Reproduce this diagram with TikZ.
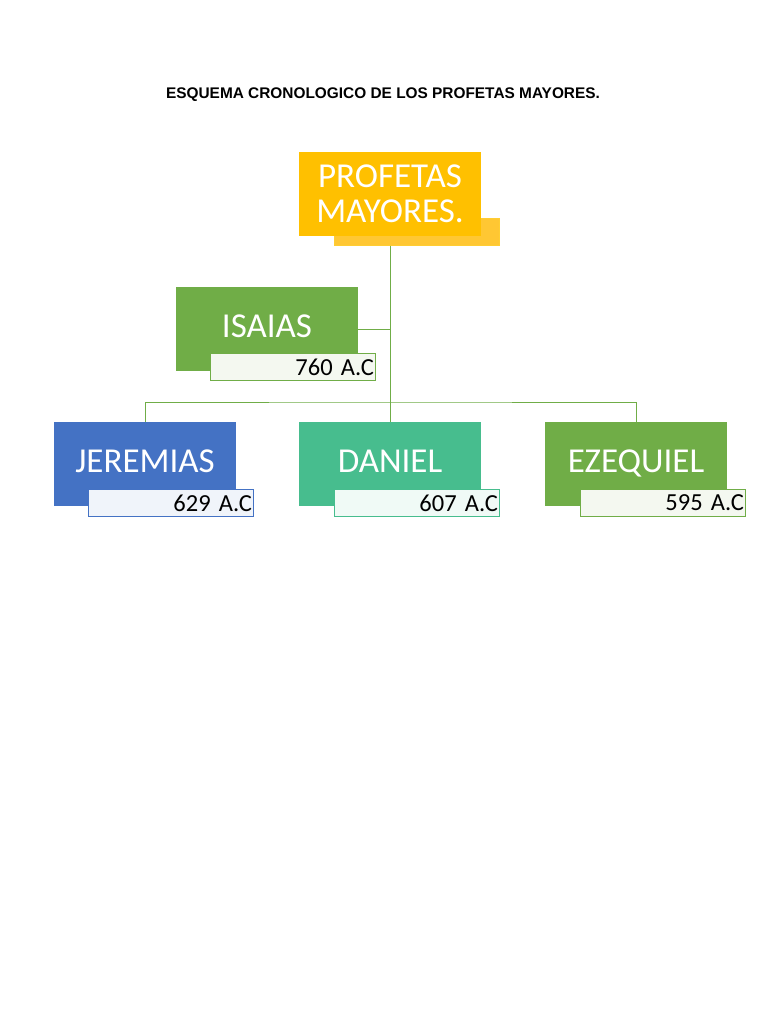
\documentclass[tikz,border=0pt]{standalone}
\usepackage{fontspec}
\setmainfont{Carlito}
\newfontfamily\titlefont{Liberation Sans}
\definecolor{oroyellow}{HTML}{FFC000}
\definecolor{hojagreen}{HTML}{70AD47}
\definecolor{marblue}{HTML}{4472C4}
\definecolor{jadeteal}{HTML}{47BD8E}
\tikzset{
  bigbox/.style={minimum width=182pt,minimum height=84pt,inner sep=0,outer sep=0,
    text=white,font=\fontsize{35}{40}\selectfont},
  datebox/.style={minimum width=165pt,minimum height=27pt,inner sep=0,outer sep=0,
    draw=#1,fill=#1!8,line width=0.8pt,text=black,align=right,
    text width=162pt,font=\fontsize{24.5}{28}\selectfont},
  conn/.style={draw=hojagreen,line width=1pt}
}

\begin{document}
\begin{tikzpicture}[x=1pt,y=-1pt]
 \useasboundingbox[fill=white] (0,0) rectangle (768,1024);
 \node (title) at (383,95) {\titlefont\bfseries\fontsize{15.4}{17}\selectfont ESQUEMA CRONOLOGICO DE LOS PROFETAS MAYORES.};

 % top
 \node[datebox=oroyellow,fill=oroyellow!90!orange!80!white,draw=oroyellow!80] (profsub) at (417,232) {};
 \node[bigbox,fill=oroyellow,align=center,font=\fontsize{35}{35}\selectfont] (prof) at (390,194) {PROFETAS\\MAYORES.};

 % isaias
 \node[bigbox,fill=hojagreen] (isaias) at (267,329) {\raisebox{6pt}{ISAIAS}};
 \node[datebox=hojagreen] (isaiasd) at (293,367) {760 A.C};

 % bottom row
 \node[bigbox,fill=marblue] (jer) at (145,464) {\raisebox{6pt}{JEREMIAS}};
 \node[datebox=marblue] (jerd) at (171,503) {629 A.C};
 \node[bigbox,fill=jadeteal] (dan) at (390,464) {\raisebox{6pt}{DANIEL}};
 \node[datebox=jadeteal] (dand) at (417,503) {607 A.C};
 \node[bigbox,fill=hojagreen] (eze) at (636,464) {\raisebox{6pt}{EZEQUIEL}};
 \node[datebox=hojagreen] (ezed) at (663,503) {595 A.C};

 % connectors
 \coordinate (ji) at (390,329);
 \coordinate (jh) at (390,402);
 \draw[conn] (profsub.south -| prof.south) -- (jh);
 \draw[conn] (isaias.east) -- (ji);
 \draw[conn] (jer.north) |- (jh) -| (eze.north);
 \draw[conn] (jh) -- (dan.north);
\end{tikzpicture}
\end{document}
